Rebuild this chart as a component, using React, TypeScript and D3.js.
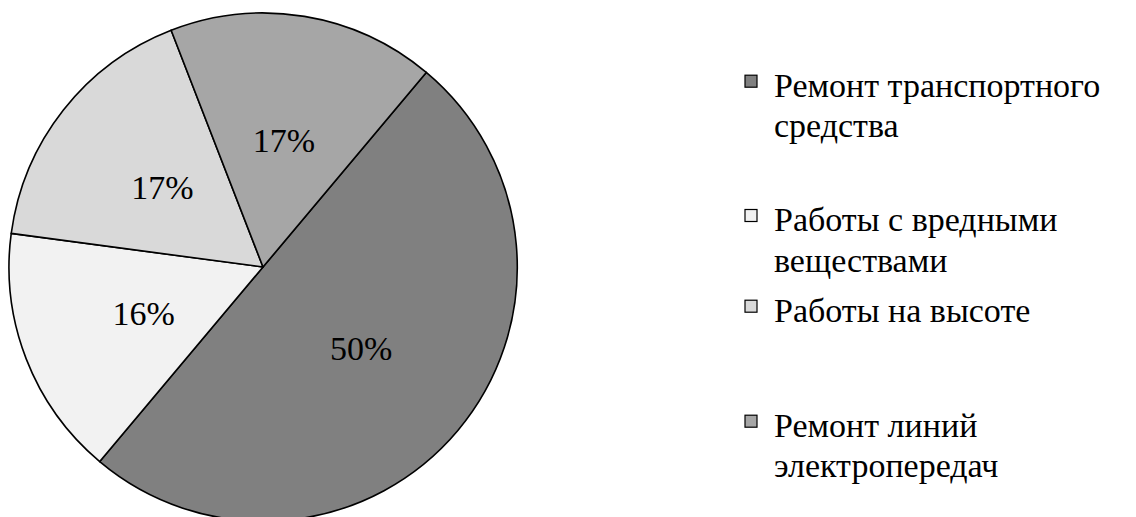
import React from "react";
import * as d3 from "d3";

// Share of each kind of work, in percent
const categories = [
  "Ремонт транспортного средства",
  "Работы с вредными веществами",
  "Работы на высоте",
  "Ремонт линий электропередач",
];
const shares = [50, 16, 17, 17];
const sliceColors = ["#808080", "#f2f2f2", "#d9d9d9", "#a6a6a6"];

// Legend text broken into lines as it is set beside the pie
const legendLines = [
  ["Ремонт транспортного", "средства"],
  ["Работы с вредными", "веществами"],
  ["Работы на высоте"],
  ["Ремонт линий", "электропередач"],
];

const W = 1136;
const H = 517;
const cx = 263;
const cy = 267;
const R = 254;
const font = "Liberation Serif, DejaVu Serif, serif";
const fontSize = 34;

// Baselines of each legend entry's first line
const legendBaselines = [96.7, 231, 321.7, 436.7];
const legendLineGap = 40.5;
const legendBoxX = 745;
const legendTextX = 774;
const boxSize = 12;

export default function App() {
  const start = (40 * Math.PI) / 180;
  const pie = d3
    .pie<number>()
    .sort(null)
    .value((d) => d)
    .startAngle(start)
    .endAngle(start + 2 * Math.PI);
  const arcs = pie(shares);
  const arc = d3.arc<d3.PieArcDatum<number>>().innerRadius(0).outerRadius(R);
  const labelArc = d3
    .arc<d3.PieArcDatum<number>>()
    .innerRadius(128)
    .outerRadius(128);

  return (
    <svg
      width={W}
      height={H}
      style={{ position: "absolute", left: 0, top: 0, background: "#fff" }}
    >
      <g transform={`translate(${cx},${cy})`}>
        {arcs.map((a, i) => (
          <path
            key={i}
            d={arc(a) || ""}
            fill={sliceColors[i]}
            stroke="#000"
            strokeWidth={1.6}
            strokeLinejoin="round"
          />
        ))}
        {arcs.map((a, i) => {
          const [x, y] = labelArc.centroid(a);
          return (
            <text
              key={i}
              x={x}
              y={y + fontSize * 0.33}
              textAnchor="middle"
              style={{ fontFamily: font, fontSize: `${fontSize}px` }}
              fill="#000"
            >
              {`${shares[i]}%`}
            </text>
          );
        })}
      </g>
      {categories.map((c, i) => (
        <g key={c}>
          <rect
            x={legendBoxX}
            y={legendBaselines[i] - 21.5}
            width={boxSize}
            height={boxSize}
            fill={sliceColors[i]}
            stroke="#000"
            strokeWidth={1.2}
          />
          <text
            style={{ fontFamily: font, fontSize: `${fontSize}px` }}
            fill="#000"
          >
            {legendLines[i].map((line, j) => (
              <tspan
                key={j}
                x={legendTextX}
                y={legendBaselines[i] + j * legendLineGap}
              >
                {line}
              </tspan>
            ))}
          </text>
        </g>
      ))}
    </svg>
  );
}
